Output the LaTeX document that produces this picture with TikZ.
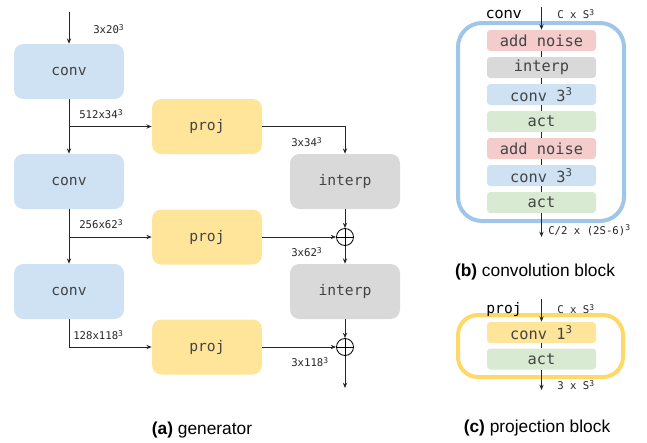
\documentclass[tikz,border=0pt]{standalone}
\usepackage{fontspec}
\setmainfont{Liberation Sans}
\newfontfamily\monof{DejaVu Sans Mono}
\newfontfamily\dejasans{DejaVu Sans}
\usetikzlibrary{arrows.meta,calc}
\definecolor{convc}{HTML}{CFE2F3}
\definecolor{projc}{HTML}{FFE599}
\definecolor{interpc}{HTML}{D9D9D9}
\definecolor{noisec}{HTML}{F4CCCC}
\definecolor{actc}{HTML}{D9EAD3}
\definecolor{bluebd}{HTML}{9FC5E8}
\definecolor{yellowbd}{HTML}{FFD966}
\definecolor{txt}{HTML}{444444}
\tikzset{
  bigbox/.style={rounded corners=7pt, minimum width=82.5pt, minimum height=41.25pt, inner sep=0pt,
    font=\monof\fontsize{11}{13}\selectfont, text=txt},
  smallbox/.style={rounded corners=2.5pt, minimum width=81.75pt, minimum height=15.75pt, inner sep=0pt,
    font=\monof\fontsize{11.5}{13}\selectfont, text=txt},
  lbl/.style={anchor=west, inner sep=0pt, font=\monof\fontsize{8}{9}\selectfont, text=black!85},
  arr/.style={-{Stealth[length=4pt,width=3.2pt]}, line width=0.6pt, black!85},
  ln/.style={line width=0.6pt, black!85},
  plus/.style={circle, draw=black, line width=0.6pt, minimum size=12.75pt, inner sep=0pt},
  captext/.style={font=\fontsize{13}{15}\selectfont, inner sep=0pt},
}
\begin{document}
\begin{tikzpicture}[x=0.75pt,y=-0.75pt]
\useasboundingbox (0,0) rectangle (647,443);
% ---------- (a) generator ----------
\node[bigbox, fill=convc] (conv1) at (69,71.5) {conv};
\node[bigbox, fill=convc] (conv2) at (69,181.5) {conv};
\node[bigbox, fill=convc] (conv3) at (69,291.5) {conv};
\node[bigbox, fill=projc] (proj1) at (207,126.5) {proj};
\node[bigbox, fill=projc] (proj2) at (207,237) {proj};
\node[bigbox, fill=projc] (proj3) at (207,347) {proj};
\node[bigbox, fill=interpc] (interp1) at (345,181.5) {interp};
\node[bigbox, fill=interpc] (interp2) at (345,291.5) {interp};
\node[plus] (c1) at (345,237) {};
\node[plus] (c2) at (345,347) {};
\draw[line width=0.6pt] (c1.north) -- (c1.south) (c1.west) -- (c1.east);
\draw[line width=0.6pt] (c2.north) -- (c2.south) (c2.west) -- (c2.east);
\coordinate (in0) at (69,12);
\coordinate (b1) at (69,126.5);
\coordinate (b2) at (69,237);
\coordinate (out0) at (345,388);
\draw[arr] (in0) -- (conv1.north);
\draw[arr] (conv1.south) -- (conv2.north);
\draw[arr] (b1) -- (proj1.west);
\draw[arr] (proj1.east) -| (interp1.north);
\draw[arr] (conv2.south) -- (conv3.north);
\draw[arr] (b2) -- (proj2.west);
\draw[arr] (proj2.east) -- (c1.west);
\draw[arr] (interp1.south) -- (c1.north);
\draw[arr] (c1.south) -- (interp2.north);
\draw[arr] (conv3.south) |- (proj3.west);
\draw[arr] (proj3.east) -- (c2.west);
\draw[arr] (interp2.south) -- (c2.north);
\draw[arr] (c2.south) -- (out0);
\node[lbl] (l1) at (93,29) {3x20\textsuperscript{3}};
\node[lbl] (l2) at (79,114) {512x34\textsuperscript{3}};
\node[lbl] (l3) at (291,142) {3x34\textsuperscript{3}};
\node[lbl] (l4) at (79,224) {256x62\textsuperscript{3}};
\node[lbl] (l5) at (291,252) {3x62\textsuperscript{3}};
\node[lbl] (l6) at (73,335) {128x118\textsuperscript{3}};
\node[lbl] (l7) at (291,362) {3x118\textsuperscript{3}};
\node[captext] (capa) at (202,430) {\textbf{(a)} generator};
% ---------- (b) convolution block ----------
\draw[bluebd, line width=3pt, rounded corners=18pt] (458,23) rectangle (624,221);
\node[smallbox, fill=noisec] (b1n) at (541.5,40.5) {add noise};
\node[smallbox, fill=interpc] (b2n) at (541.5,67.5) {interp};
\node[smallbox, fill=convc] (b3n) at (541.5,94.5) {conv 3\textsuperscript{3}};
\node[smallbox, fill=actc] (b4n) at (541.5,121.5) {act};
\node[smallbox, fill=noisec] (b5n) at (541.5,148.5) {add noise};
\node[smallbox, fill=convc] (b6n) at (541.5,175.5) {conv 3\textsuperscript{3}};
\node[smallbox, fill=actc] (b7n) at (541.5,202.5) {act};
\draw[ln] (b1n) -- (b2n);
\draw[ln] (b2n) -- (b3n);
\draw[ln] (b3n) -- (b4n);
\draw[ln] (b4n) -- (b5n);
\draw[ln] (b5n) -- (b6n);
\draw[ln] (b6n) -- (b7n);
\coordinate (bin) at (541.5,7);
\coordinate (bout) at (541.5,237);
\draw[arr] (bin) -- (b1n.north);
\draw[arr] (b7n.south) -- (bout);
\node[font=\dejasans\fontsize{11}{13}\selectfont, inner sep=0pt] (bh) at (504,14) {conv};
\node[lbl] (bl1) at (557,14) {C x S\textsuperscript{3}};
\node[lbl] (bl2) at (548,230) {C/2 x (2S-6)\textsuperscript{3}};
\node[captext] (capb) at (535,272) {\textbf{(b)} convolution block};
% ---------- (c) projection block ----------
\draw[yellowbd, line width=3pt, rounded corners=15pt] (458,315) rectangle (623,377);
\node[smallbox, fill=projc] (c1n) at (541.5,332.5) {conv 1\textsuperscript{3}};
\node[smallbox, fill=actc] (c2n) at (541.5,359) {act};
\draw[ln] (c1n) -- (c2n);
\coordinate (cin) at (541.5,299);
\coordinate (cout) at (541.5,390);
\draw[arr] (cin) -- (c1n.north);
\draw[arr] (c2n.south) -- (cout);
\node[font=\monof\fontsize{11}{13}\selectfont, inner sep=0pt] (ch) at (504,309) {proj};
\node[lbl] (cl1) at (557,309) {C x S\textsuperscript{3}};
\node[lbl] (cl2) at (557,385) {3 x S\textsuperscript{3}};
\node[captext] (capc) at (537,428) {\textbf{(c)} projection block};
\end{tikzpicture}
\end{document}
